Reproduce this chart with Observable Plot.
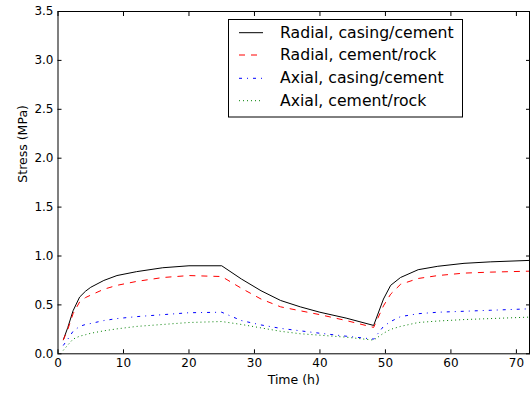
<!DOCTYPE html>
<html><head><meta charset="utf-8">
<script src="https://cdn.jsdelivr.net/npm/d3@7"></script>
<script src="https://cdn.jsdelivr.net/npm/@observablehq/plot@0.6"></script>
<style>
body{margin:0;background:#fff;}
#chart{position:relative;width:531px;height:394px;}
</style>
</head><body><div id="chart"></div>
<script>
// Time (h)
const times = [0.8, 1.5, 2.3, 3.3, 4.2, 5, 7, 9, 12, 16, 20, 25, 28, 31, 34, 37, 40, 44, 48.2, 49.7, 50.8, 52.3, 55, 58, 62, 66, 72];
// Stress (MPa)
const radialCasing = [0.14, 0.27, 0.44, 0.58, 0.64, 0.68, 0.75, 0.80, 0.84, 0.88, 0.90, 0.90, 0.765, 0.645, 0.545, 0.48, 0.425, 0.365, 0.29, 0.56, 0.70, 0.78, 0.86, 0.895, 0.925, 0.94, 0.955];
const radialRock   = [0.14, 0.25, 0.41, 0.53, 0.575, 0.60, 0.66, 0.70, 0.74, 0.78, 0.80, 0.79, 0.67, 0.56, 0.48, 0.44, 0.40, 0.34, 0.27, 0.49, 0.61, 0.71, 0.77, 0.80, 0.825, 0.835, 0.845];
const axialCasing  = [0.085, 0.15, 0.23, 0.28, 0.30, 0.31, 0.34, 0.36, 0.38, 0.40, 0.42, 0.425, 0.34, 0.295, 0.26, 0.235, 0.21, 0.18, 0.15, 0.28, 0.33, 0.38, 0.41, 0.425, 0.435, 0.445, 0.46];
const axialRock    = [0.035, 0.09, 0.15, 0.18, 0.195, 0.21, 0.235, 0.255, 0.28, 0.30, 0.32, 0.33, 0.30, 0.265, 0.23, 0.205, 0.19, 0.17, 0.14, 0.21, 0.25, 0.28, 0.32, 0.335, 0.35, 0.36, 0.375];

const seriesNames = ["Radial, casing/cement", "Radial, cement/rock", "Axial, casing/cement", "Axial, cement/rock"];
const seriesValues = [radialCasing, radialRock, axialCasing, axialRock];
const seriesColors = ["#000000", "#ff0000", "#0000ff", "#008000"];
const seriesDash = [null, "6,6", "3,5,1,5", "1,3"];

const xTicks = [0, 10, 20, 30, 40, 50, 60, 70];
const yTicks = [0, 0.5, 1.0, 1.5, 2.0, 2.5, 3.0, 3.5];
const xLabel = "Time (h)";
const yLabel = "Stress (MPa)";

const rows = [];
seriesNames.forEach((name, i) => times.forEach((t, j) => rows.push({series: name, t, v: seriesValues[i][j]})));

const lineMarks = seriesNames.map((name, i) =>
  Plot.line(rows.filter(d => d.series === name), {
    x: "t", y: "v", stroke: seriesColors[i], strokeWidth: 1,
    strokeDasharray: seriesDash[i] || undefined, strokeLinejoin: "round", strokeLinecap: "butt"
  })
);

const chart = Plot.plot({
  width: 531, height: 394,
  marginLeft: 57.5, marginRight: 2, marginTop: 11, marginBottom: 40.7,
  style: {fontFamily: "DejaVu Sans", fontSize: "12px", color: "black", background: "white", overflow: "visible"},
  x: {domain: [0, 72]},
  y: {domain: [0, 3.5]},
  marks: [
    ...lineMarks,
    Plot.frame({stroke: "black", strokeWidth: 1}),
    Plot.axisX(xTicks, {anchor: "bottom", tickSize: 0, tickPadding: 4.5, tickFormat: d3.format("d"), label: null, fontSize: 12}),
    Plot.axisX(xTicks, {anchor: "bottom", tickSize: -4, tickFormat: () => "", label: null}),
    Plot.axisX(xTicks, {anchor: "top", tickSize: -4, tickFormat: () => "", label: null}),
    Plot.axisY(yTicks, {anchor: "left", tickSize: 0, tickPadding: 4.5, tickFormat: d3.format(".1f"), label: null, fontSize: 12}),
    Plot.axisY(yTicks, {anchor: "left", tickSize: -4, tickFormat: () => "", label: null}),
    Plot.axisY(yTicks, {anchor: "right", tickSize: -4, tickFormat: () => "", label: null}),
    Plot.text([xLabel], {text: d => d, frameAnchor: "bottom", dy: 21.7, lineAnchor: "top", fontSize: 12.5}),
    Plot.text([yLabel], {text: d => d, frameAnchor: "left", rotate: -90, dx: -35, lineAnchor: "middle", fontSize: 12.5})
  ]
});
document.getElementById("chart").appendChild(chart);

// Legend (inside the axes, upper right)
const svg = d3.select(chart);
const lg = svg.append("g").attr("font-family", "DejaVu Sans").attr("font-size", 15.7).attr("text-anchor", "start");
lg.append("rect").attr("x", 228.5).attr("y", 19.5).attr("width", 234).attr("height", 97.5)
  .attr("fill", "white").attr("stroke", "black").attr("stroke-width", 1);
const rowY = [32.7, 55, 78.3, 100.7];
seriesNames.forEach((name, i) => {
  lg.append("line").attr("x1", 239).attr("x2", 263).attr("y1", rowY[i]).attr("y2", rowY[i])
    .attr("stroke", seriesColors[i]).attr("stroke-width", 1)
    .attr("stroke-dasharray", seriesDash[i]);
  lg.append("text").attr("x", 280).attr("y", rowY[i] + 5).attr("text-anchor", "start").attr("fill", "black").text(name);
});
</script>
</body></html>
